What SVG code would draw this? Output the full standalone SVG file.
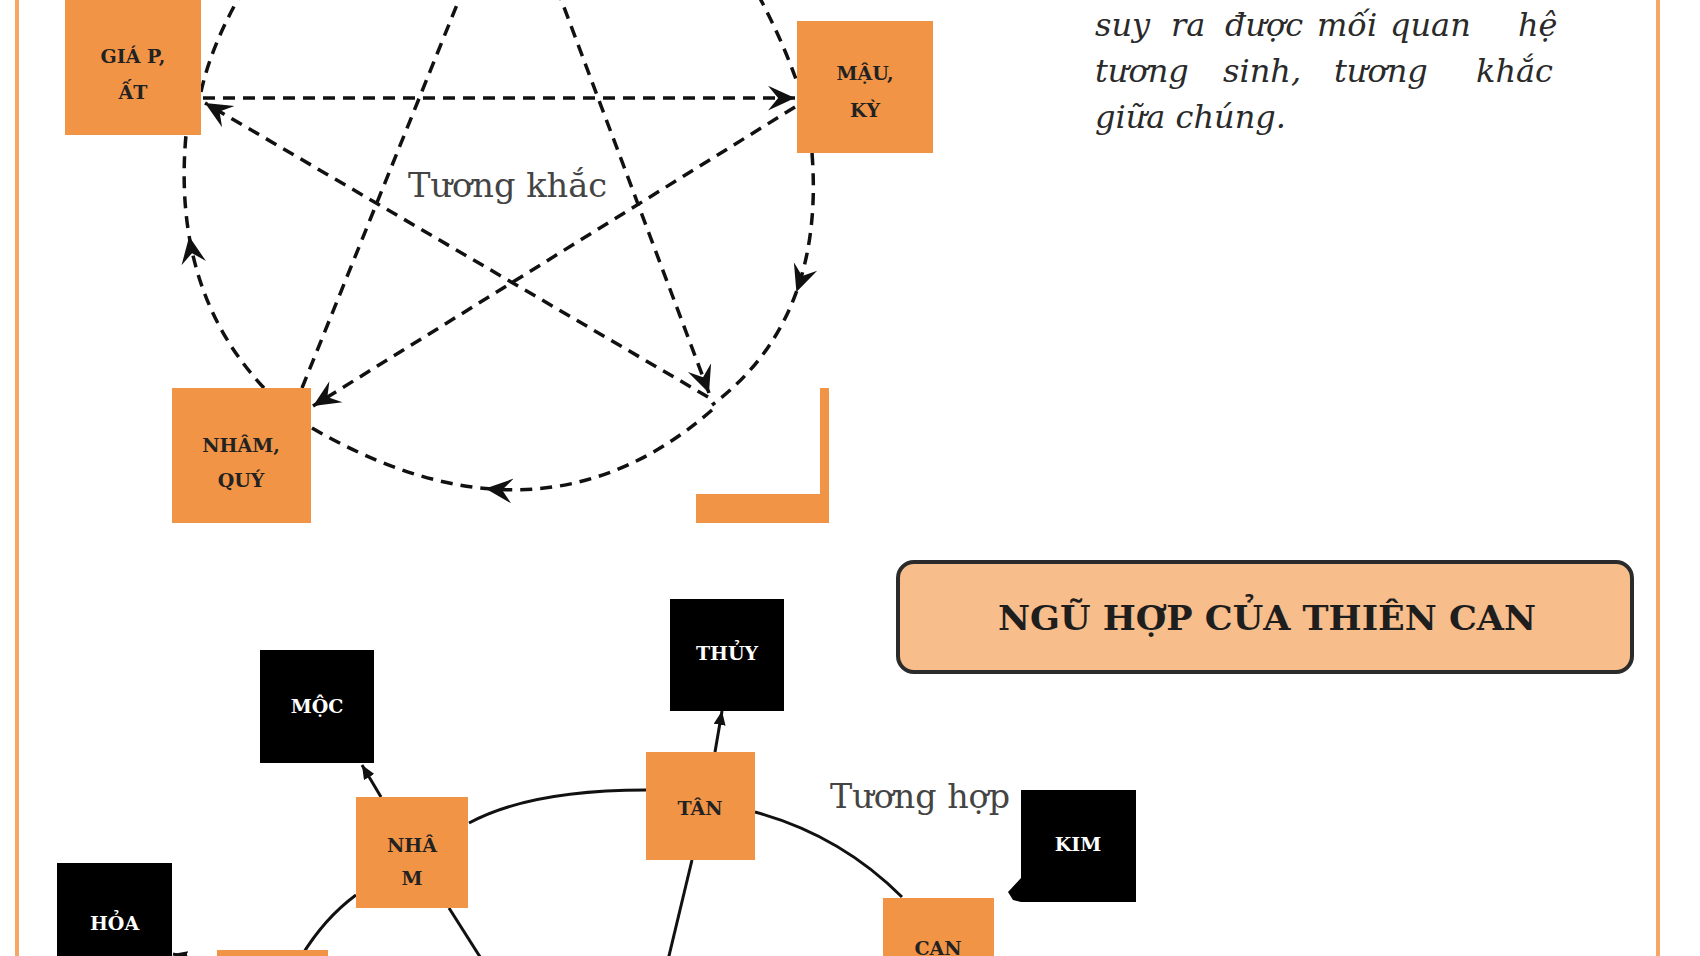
<svg xmlns="http://www.w3.org/2000/svg" width="1700" height="956" viewBox="0 0 1700 956">
<style>
.org{fill:#F29446}
.blk{fill:#000}
.lbl{font-family:"DejaVu Serif",serif;font-weight:bold;font-size:19px;fill:#222;text-anchor:middle}
.wl{font-family:"DejaVu Serif",serif;font-weight:bold;font-size:19px;fill:#fff;text-anchor:middle}
.dash{fill:none;stroke:#111;stroke-width:3.5;stroke-dasharray:12 8}
.sol{fill:none;stroke:#111;stroke-width:3}
.rel{font-family:"DejaVu Serif",serif;font-size:33px;fill:#444}
.para{font-family:"DejaVu Serif",serif;font-style:italic;font-size:32px;fill:#2a2a2a}
.border{stroke:#F6A766;stroke-width:4}
</style>
<defs>
<marker id="st" viewBox="0 0 24 24" refX="24" refY="12" markerWidth="27" markerHeight="27" markerUnits="userSpaceOnUse" orient="auto"><path d="M0,1 L24,12 L0,23 L9,12 z" fill="#111"/></marker>
<marker id="ar" viewBox="0 0 14 12" refX="14" refY="6" markerWidth="14" markerHeight="12" markerUnits="userSpaceOnUse" orient="auto"><path d="M0,0 L14,6 L0,12 z" fill="#111"/></marker>
</defs>
<rect width="1700" height="956" fill="#fff"/>
<line class="border" x1="17" y1="0" x2="17" y2="956"/>
<line class="border" x1="1658" y1="0" x2="1658" y2="956"/>

<g id="connectors">
<!-- tuong sinh arcs -->
<path class="dash" d="M201,92 Q214,32 262,-40"/>
<path class="dash" d="M738,-40 Q775,20 797,82"/>
<path class="dash" d="M812,153 Q818.1,231.5 796.4,291.9 Q771.9,360 712,405" marker-mid="url(#st)"/>
<path class="dash" d="M712,410 Q608.8,500 485.4,488.5 Q403.2,480.8 312,428" marker-mid="url(#st)"/>
<path class="dash" d="M264,388 Q204.2,324.3 189.2,236.5 Q181.1,189.25 186,135" marker-mid="url(#st)"/>
<!-- tuong khac star -->
<path class="dash" d="M203,98 L795,98" marker-end="url(#st)"/>
<path class="dash" d="M708,397 L205,103" marker-end="url(#st)"/>
<path class="dash" d="M795,107 L313,406" marker-end="url(#st)"/>
<path class="dash" d="M302,388 L471,-30"/>
<path class="dash" d="M550,-30 L709,393" marker-end="url(#st)"/>
<!-- ngu hop -->
<path class="sol" d="M381,797 L362,765" marker-end="url(#ar)"/>
<path class="sol" d="M715,752 L722,711" marker-end="url(#ar)"/>
<path class="sol" d="M469,823 Q530,790 646,790"/>
<path class="sol" d="M356,895 Q322,920 298,962"/>
<path class="sol" d="M449,908 L482,960"/>
<path class="sol" d="M692,860 L668,960"/>
<path class="sol" d="M755,812 Q840,835 902,897"/>
<path class="sol" d="M217,964 L173,954" marker-end="url(#ar)"/>
<path d="M1021,878 L1008,892 L1013,900 L1021,902 z" fill="#000"/>
</g>

<g id="giap-at"><rect class="org" x="65" y="0" width="136" height="135"/>
<text class="lbl" x="133" y="63">GIÁ P,</text><text class="lbl" x="133" y="99">ẤT</text></g>
<g id="mau-ky"><rect class="org" x="797" y="21" width="136" height="132"/>
<text class="lbl" x="865" y="80">MẬU,</text><text class="lbl" x="865" y="117">KỲ</text></g>
<g id="nham-quy"><rect class="org" x="172" y="388" width="139" height="135"/>
<text class="lbl" x="241" y="452">NHÂM,</text><text class="lbl" x="241" y="487">QUÝ</text></g>
<g id="canh-tan"><path class="org" d="M820,388 H829 V523 H696 V494 H820 Z"/></g>

<g id="label-khac"><text class="rel" x="408" y="197" textLength="199" lengthAdjust="spacingAndGlyphs">Tương khắc</text></g>

<g id="paragraph">
<text class="para" y="36"><tspan x="1095">suy</tspan><tspan x="1171">ra</tspan><tspan x="1225">được</tspan><tspan x="1317">mối</tspan><tspan x="1390">quan</tspan><tspan x="1518">hệ</tspan></text>
<text class="para" y="82"><tspan x="1095">tương</tspan><tspan x="1223">sinh,</tspan><tspan x="1334">tương</tspan><tspan x="1476">khắc</tspan></text>
<text class="para" x="1095" y="128">giữa chúng.</text>
</g>

<g id="title"><rect x="898" y="562" width="734" height="110" rx="16" fill="#F7BD8B" stroke="#2b2b2b" stroke-width="4"/>
<text x="1267" y="630" text-anchor="middle" font-family="DejaVu Serif, serif" font-weight="bold" font-size="34" fill="#1e1e1e" textLength="538" lengthAdjust="spacingAndGlyphs">NGŨ HỢP CỦA THIÊN CAN</text></g>

<g id="label-hop"><text class="rel" x="830" y="808" textLength="180" lengthAdjust="spacingAndGlyphs">Tương hợp</text></g>

<g id="moc"><rect class="blk" x="260" y="650" width="114" height="113"/><text class="wl" x="317" y="713">MỘC</text></g>
<g id="thuy"><rect class="blk" x="670" y="599" width="114" height="112"/><text class="wl" x="727" y="660">THỦY</text></g>
<g id="kim"><rect class="blk" x="1021" y="790" width="115" height="112"/><text class="wl" x="1078" y="851">KIM</text></g>
<g id="hoa"><rect class="blk" x="57" y="863" width="115" height="113"/><text class="wl" x="114.5" y="930">HỎA</text></g>
<g id="nham"><rect class="org" x="356" y="797" width="112" height="111"/>
<text class="lbl" x="412" y="852">NHÂ</text><text class="lbl" x="412" y="885">M</text></g>
<g id="tan"><rect class="org" x="646" y="752" width="109" height="108"/><text class="lbl" x="700" y="815">TÂN</text></g>
<g id="canh"><rect class="org" x="883" y="898" width="111" height="110"/><text class="lbl" x="938" y="955">CAN</text></g>
<g id="bottom-left"><rect class="org" x="217" y="950" width="111" height="110"/></g>
</svg>
